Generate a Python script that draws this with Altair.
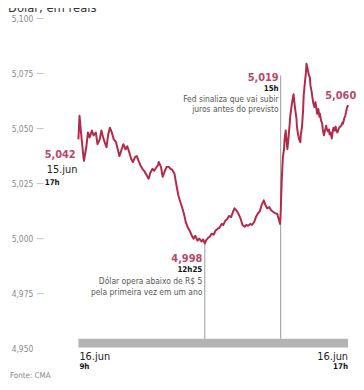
import altair as alt
import pandas as pd

# minutes after 9h on 16.jun
minutes = [0, 2, 5, 9, 10, 14, 17, 20, 24, 27, 31, 34, 38, 41, 44, 48, 50, 53, 56, 60,
           63, 67, 70, 73, 77, 80, 84, 87, 91, 94, 97, 101, 104, 108, 111, 114, 118, 121, 125, 128,
           132, 135, 138, 142, 143, 147, 150, 154, 157, 161, 164, 167, 171, 174, 178, 181, 184, 188, 191, 195,
           198, 202, 205, 208, 212, 215, 219, 222, 225, 227, 231, 234, 237, 241, 244, 248, 251, 255, 258, 261,
           265, 268, 272, 275, 278, 282, 285, 289, 292, 296, 299, 302, 306, 309, 313, 316, 319, 323, 326, 330,
           333, 336, 340, 343, 347, 350, 354, 357, 359,
           360, 362, 364, 366, 367, 369, 371, 372, 374, 376, 377, 379, 381, 383, 384, 386, 388, 389, 391, 393,
           395, 396, 398, 400, 401, 403, 405, 406, 408, 410, 412, 413, 415, 417, 418, 420, 422, 424, 425, 427,
           429, 430, 432, 434, 435, 437, 439, 441, 442, 444, 446, 447, 449, 451, 452, 454, 456, 458, 459, 461,
           463, 464, 466, 468, 470, 471, 473, 475, 476, 478, 480]

dolar = [5.0451, 5.0558, 5.0473, 5.0371, 5.0353, 5.0415, 5.0482, 5.0460, 5.0491, 5.0469,
         5.0482, 5.0429, 5.0451, 5.0491, 5.0460, 5.0429, 5.0415, 5.0473, 5.0504, 5.0478,
         5.0451, 5.0438, 5.0406, 5.0375, 5.0406, 5.0429, 5.0406, 5.0420, 5.0388, 5.0362,
         5.0348, 5.0371, 5.0375, 5.0348, 5.0330, 5.0317, 5.0304, 5.0290, 5.0272, 5.0299,
         5.0317, 5.0308, 5.0321, 5.0335, 5.0348, 5.0326, 5.0281, 5.0308, 5.0326, 5.0326,
         5.0317, 5.0313, 5.0295, 5.0250, 5.0196, 5.0170, 5.0147, 5.0112, 5.0076, 5.0049,
         5.0036, 5.0013, 5.0000, 5.0013, 4.9991, 5.0000, 4.9987, 4.9996, 4.9978, 4.9991,
         5.0004, 5.0009, 5.0022, 5.0018, 5.0036, 5.0045, 5.0049, 5.0067, 5.0062, 5.0080,
         5.0089, 5.0103, 5.0098, 5.0121, 5.0138, 5.0125, 5.0112, 5.0089, 5.0062, 5.0054,
         5.0062, 5.0058, 5.0067, 5.0062, 5.0076, 5.0098, 5.0112, 5.0125, 5.0152, 5.0174,
         5.0152, 5.0138, 5.0143, 5.0129, 5.0121, 5.0116, 5.0112, 5.0085, 5.0067,
         5.0116, 5.0272, 5.0371, 5.0406, 5.0451, 5.0491, 5.0429, 5.0406, 5.0460, 5.0518,
         5.0554, 5.0594, 5.0629, 5.0656, 5.0629, 5.0585, 5.0549, 5.0509, 5.0473, 5.0451,
         5.0438, 5.0473, 5.0509, 5.0585, 5.0651, 5.0705, 5.0754, 5.0795, 5.0772, 5.0745,
         5.0732, 5.0696, 5.0670, 5.0634, 5.0616, 5.0598, 5.0620, 5.0585, 5.0567, 5.0589,
         5.0554, 5.0567, 5.0536, 5.0522, 5.0496, 5.0469, 5.0491, 5.0513, 5.0500, 5.0487,
         5.0496, 5.0473, 5.0482, 5.0455, 5.0478, 5.0504, 5.0491, 5.0509, 5.0491, 5.0482,
         5.0496, 5.0504, 5.0509, 5.0513, 5.0527, 5.0522, 5.0545, 5.0558, 5.0571, 5.0594,
         5.0607]

y_ticks = [4.95, 4.975, 5.0, 5.025, 5.05, 5.075, 5.10]
tick_marks = [4.975, 5.0, 5.025, 5.05, 5.075, 5.10]

FONT = "Liberation Sans Narrow, DejaVu Sans Condensed, sans-serif"
RED = "#b32a48"
LABEL_RED = "#b9466a"

df = pd.DataFrame({"min": minutes, "v": dolar})

W, H = 272, 333
xs = alt.Scale(domain=[0, 480], nice=False, zero=False)
ys = alt.Scale(domain=[4.95, 5.10], nice=False, zero=False)
yaxis = alt.Axis(
    values=y_ticks, title=None, domain=False, grid=False, ticks=False, offset=35,
    labelPadding=11, labelColor="#8a8a8a", labelFontSize=8.5, labelFont=FONT,
    labelExpr="replace(format(datum.value, '.3f'), '.', ',')")

line = alt.Chart(df).mark_line(color=RED, strokeWidth=2, strokeJoin="round").encode(
    x=alt.X("min:Q", scale=xs, axis=None),
    y=alt.Y("v:Q", scale=ys, axis=yaxis),
)

ticks = alt.Chart(pd.DataFrame({"v": tick_marks})).mark_tick(
    color="#aaaaaa", orient="horizontal", size=7, thickness=1).encode(
    x=alt.value(-38.5), y=alt.Y("v:Q", scale=ys, axis=yaxis))

bar = alt.Chart(pd.DataFrame({"a": [0], "b": [480], "lo": [4.9505], "hi": [4.9545]})).mark_rect(
    color="#b3b3b3").encode(
    x=alt.X("a:Q", scale=xs, axis=None), x2="b:Q",
    y=alt.Y("lo:Q", scale=ys, axis=yaxis), y2="hi:Q")

rules_df = pd.DataFrame({"t": [225, 360], "lo": [4.9545, 4.9545], "hi": [4.9978, 5.0741]})
rules = alt.Chart(rules_df).mark_rule(color="#9a9a9a", strokeWidth=1).encode(
    x=alt.X("t:Q", scale=xs, axis=None),
    y=alt.Y("lo:Q", scale=ys, axis=yaxis), y2="hi:Q")


def txt(text, x, y, size=8.5, color="#555555", weight="normal", align="left", baseline="middle"):
    return alt.Chart(pd.DataFrame({"s": [text]})).mark_text(
        align=align, baseline=baseline, fontSize=size, color=color, fontWeight=weight, font=FONT
    ).encode(text="s:N", x=alt.value(x), y=alt.value(y))


texts = [
    txt("Dólar, em reais", -71, -6.5, size=13, color="#333333", baseline="alphabetic"),
    txt("5,042", -34, 138, size=11, color=LABEL_RED, weight="bold"),
    txt("15.jun", -32, 153, size=11, color="#222222"),
    txt("17h", -34, 166, size=8, color="#111111", weight="bold"),
    txt("5,019", 202, 60, size=11, color=LABEL_RED, weight="bold", align="right"),
    txt("15h", 202, 71, size=8, color="#111111", weight="bold", align="right"),
    txt("Fed sinaliza que vai subir", 202, 81, align="right"),
    txt("juros antes do previsto", 202, 91, align="right"),
    txt("4,998", 125, 243, size=11, color=LABEL_RED, weight="bold", align="right"),
    txt("12h25", 125, 254, size=8, color="#111111", weight="bold", align="right"),
    txt("Dólar opera abaixo de R$ 5", 125, 265, align="right"),
    txt("pela primeira vez em um ano", 125, 276, align="right"),
    txt("5,060", 249, 78, size=11, color=LABEL_RED, weight="bold"),
    txt("16.jun", 1, 341, size=11, color="#222222"),
    txt("9h", 1, 352, size=8, color="#111111", weight="bold"),
    txt("16.jun", W, 341, size=11, color="#222222", align="right"),
    txt("17h", W, 352, size=8, color="#111111", weight="bold", align="right"),
    txt("Fonte: CMA", -69, 361, size=8, color="#888888"),
]

chart = alt.layer(bar, rules, ticks, line, *texts).properties(
    width=W, height=H,
    background="white",
    autosize=alt.AutoSizeParams(type="none"),
    padding={"left": 71, "top": 9, "right": 8, "bottom": 32},
).configure_view(strokeWidth=0)

chart.save("out.html", embed_options={"renderer": "svg", "actions": False})
